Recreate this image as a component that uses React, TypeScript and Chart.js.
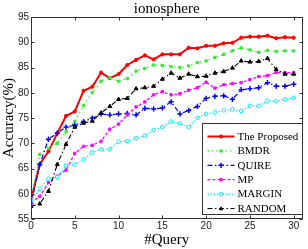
import React, { useEffect, useRef } from "react";
import { Chart, registerables } from "chart.js";

Chart.register(...registerables);

const queries = [0, 1, 2, 3, 4, 5, 6, 7, 8, 9, 10, 11, 12, 13, 14, 15, 16, 17, 18, 19, 20, 21, 22, 23, 24, 25, 26, 27, 28, 29, 30];

const proposed = [58.7, 65.8, 68.4, 72.0, 75.4, 76.3, 80.4, 81.2, 84.0, 82.9, 83.7, 85.5, 86.5, 87.4, 86.6, 87.6, 87.6, 87.6, 88.9, 88.8, 89.3, 89.3, 89.8, 89.9, 90.9, 91.1, 91.1, 91.3, 90.8, 91.0, 90.9];
const bmdr = [59.0, 67.8, 69.0, 70.0, 72.3, 74.3, 77.5, 80.0, 82.3, 83.0, 82.3, 82.8, 84.3, 84.8, 85.5, 85.4, 85.2, 85.0, 85.3, 86.0, 86.3, 87.0, 87.6, 88.3, 88.9, 88.5, 88.0, 88.4, 88.2, 88.3, 88.3];
const quire = [58.0, 65.8, 70.8, 72.0, 73.2, 73.6, 74.3, 75.0, 75.8, 75.6, 75.8, 75.9, 75.6, 76.9, 76.8, 77.0, 78.2, 75.8, 76.5, 77.3, 78.9, 79.3, 79.4, 78.7, 80.6, 80.8, 81.0, 82.0, 81.3, 81.3, 81.7];
const mp = [58.2, 59.5, 62.2, 63.5, 64.7, 68.0, 69.4, 69.6, 70.4, 72.8, 73.8, 75.6, 77.2, 78.2, 79.6, 80.2, 79.6, 79.8, 80.5, 81.0, 82.1, 80.9, 81.6, 81.8, 82.0, 82.6, 83.2, 83.4, 84.0, 84.0, 84.0];
const margin = [58.6, 61.0, 63.0, 63.3, 65.6, 65.8, 66.8, 68.2, 68.8, 68.8, 70.3, 70.4, 71.0, 71.5, 72.6, 73.2, 74.3, 73.9, 73.2, 75.0, 75.8, 76.1, 76.5, 76.7, 76.4, 77.4, 77.4, 78.4, 78.3, 78.7, 79.0];
const random = [57.5, 58.0, 60.5, 65.8, 69.8, 73.2, 74.0, 74.4, 76.0, 77.3, 78.7, 78.9, 80.8, 81.0, 81.3, 82.7, 83.9, 82.9, 83.7, 83.2, 83.3, 83.9, 84.2, 84.9, 86.3, 86.1, 86.2, 86.8, 84.6, 83.7, 83.7];

const seriesNames = ["The Proposed", "BMDR", "QUIRE", "MP", "MARGIN", "RANDOM"];
const xTicks = [0, 5, 10, 15, 20, 25, 30];
const yTicks = [55, 60, 65, 70, 75, 80, 85, 90, 95];
const chartTitle = "ionosphere";
const xTitle = "#Query";
const yTitle = "Accuracy(%)";

const SERIF = "'Liberation Serif', 'DejaVu Serif', serif";
const SANS = "'Liberation Sans', Arial, sans-serif";

type Style = {
  color: string;
  width: number;
  dash: number[];
  marker: string;
  radius: number;
  filled: boolean;
};

const styles: Style[] = [
  { color: "#ff0000", width: 2, dash: [], marker: "circle", radius: 1.6, filled: true },
  { color: "#33ee33", width: 1.3, dash: [1.5, 3], marker: "rect", radius: 1.6, filled: true },
  { color: "#0000ff", width: 1.2, dash: [5, 2.5, 1.5, 2.5], marker: "cross", radius: 2.6, filled: false },
  { color: "#ff00ff", width: 1.3, dash: [3, 2], marker: "rect", radius: 1.6, filled: true },
  { color: "#00eeff", width: 1.1, dash: [1.5, 1.5], marker: "circle", radius: 1.8, filled: false },
  { color: "#000000", width: 1.1, dash: [5, 2.5, 1.5, 2.5], marker: "triangle", radius: 2.3, filled: true },
];

function drawMarker(ctx: CanvasRenderingContext2D, s: Style, x: number, y: number) {
  const r = s.radius;
  ctx.save();
  ctx.setLineDash([]);
  ctx.strokeStyle = s.color;
  ctx.fillStyle = s.filled ? s.color : "#ffffff";
  ctx.lineWidth = s.marker === "cross" ? 1.5 : 1;
  ctx.beginPath();
  if (s.marker === "circle") {
    ctx.arc(x, y, r, 0, Math.PI * 2);
    ctx.fill();
    ctx.stroke();
  } else if (s.marker === "rect") {
    ctx.rect(x - r, y - r, 2 * r, 2 * r);
    ctx.fill();
  } else if (s.marker === "cross") {
    ctx.moveTo(x - r, y);
    ctx.lineTo(x + r, y);
    ctx.moveTo(x, y - r);
    ctx.lineTo(x, y + r);
    ctx.stroke();
  } else if (s.marker === "triangle") {
    ctx.moveTo(x, y - r * 1.1);
    ctx.lineTo(x + r, y + r * 0.8);
    ctx.lineTo(x - r, y + r * 0.8);
    ctx.closePath();
    ctx.fill();
  }
  ctx.restore();
}

export default function App() {
  const ref = useRef<HTMLCanvasElement>(null);

  useEffect(() => {
    document.body.style.margin = "0";
    const canvas = ref.current;
    if (!canvas) return;
    const allSeries = [proposed, bmdr, quire, mp, margin, random];

    const datasets = allSeries.map((vals, i) => {
      const s = styles[i];
      return {
        label: seriesNames[i],
        data: vals.map((v, k) => ({ x: queries[k], y: v })),
        borderColor: s.color,
        backgroundColor: s.filled ? s.color : "#ffffff",
        borderWidth: s.width,
        borderDash: s.dash,
        pointStyle: s.marker === "cross" ? "cross" : s.marker === "rect" ? "rect" : s.marker === "triangle" ? "triangle" : "circle",
        pointRadius: s.radius,
        pointBorderWidth: s.marker === "cross" ? 1.5 : 1,
        pointBorderColor: s.color,
        pointBackgroundColor: s.filled ? s.color : "#ffffff",
        tension: 0,
        order: 6 - i,
      };
    });

    const framePlugin = {
      id: "frame",
      afterDatasetsDraw(chart: any) {
        const { ctx, chartArea: a, scales } = chart;
        const xs = scales.x;
        const ys = scales.y;
        ctx.save();
        ctx.setLineDash([]);
        ctx.strokeStyle = "#333333";
        ctx.lineWidth = 1;
        const L = Math.round(a.left) + 0.5;
        const R = Math.round(a.right) - 0.5;
        const T = Math.round(a.top) + 0.5;
        const B = Math.round(a.bottom) - 0.5;
        ctx.strokeRect(L, T, R - L, B - T);
        ctx.beginPath();
        const tl = 3;
        xTicks.forEach((v) => {
          const px = Math.round(xs.getPixelForValue(v)) + 0.5;
          ctx.moveTo(px, B);
          ctx.lineTo(px, B - tl);
          ctx.moveTo(px, T);
          ctx.lineTo(px, T + tl);
        });
        yTicks.forEach((v) => {
          const py = Math.round(ys.getPixelForValue(v)) + 0.5;
          ctx.moveTo(L, py);
          ctx.lineTo(L + tl, py);
          ctx.moveTo(R, py);
          ctx.lineTo(R - tl, py);
        });
        ctx.stroke();

        // title
        ctx.fillStyle = "#000000";
        ctx.font = `15px ${SERIF}`;
        ctx.textAlign = "center";
        ctx.textBaseline = "alphabetic";
        ctx.fillText(chartTitle, (a.left + a.right) / 2, 12.5);

        // legend
        const lw = 100;
        const lh = 91;
        const lx = Math.round(a.right) - lw - 0.5;
        const ly = Math.round(a.bottom) - lh - 4.5;
        ctx.fillStyle = "#ffffff";
        ctx.fillRect(lx, ly, lw, lh);
        ctx.strokeStyle = "#333333";
        ctx.lineWidth = 1;
        ctx.strokeRect(lx, ly, lw, lh);
        ctx.font = `11px ${SERIF}`;
        ctx.textAlign = "left";
        ctx.textBaseline = "middle";
        seriesNames.forEach((name, i) => {
          const s = styles[i];
          const cy = ly + 13 + i * 14.4;
          ctx.save();
          ctx.strokeStyle = s.color;
          ctx.lineWidth = s.width;
          ctx.setLineDash(s.dash);
          ctx.beginPath();
          ctx.moveTo(lx + 5, cy);
          ctx.lineTo(lx + 32, cy);
          ctx.stroke();
          ctx.restore();
          drawMarker(ctx, s, lx + 18.5, cy);
          ctx.fillStyle = "#000000";
          ctx.fillText(name, lx + 35, cy + 0.5);
        });
        ctx.restore();
      },
    };

    const chart = new Chart(canvas, {
      type: "line",
      data: { datasets: datasets as any },
      options: {
        animation: false,
        responsive: false,
        devicePixelRatio: 1,
        layout: { padding: { left: 0, right: 5, top: 17, bottom: 0 } },
        plugins: {
          legend: { display: false },
          title: { display: false },
          tooltip: { enabled: false },
        },
        scales: {
          x: {
            type: "linear",
            min: 0,
            max: 31,
            afterBuildTicks: (s: any) => {
              s.ticks = xTicks.map((v) => ({ value: v }));
            },
            afterFit: (s: any) => {
              s.height = 30;
            },
            grid: { display: false, drawTicks: false },
            border: { display: false },
            ticks: {
              padding: 1,
              color: "#222222",
              font: { family: SANS, size: 10 },
              maxRotation: 0,
              autoSkip: false,
            },
            title: {
              display: true,
              text: xTitle,
              color: "#000000",
              font: { family: SERIF, size: 15 },
              padding: { top: 0, bottom: 0 },
            },
          },
          y: {
            type: "linear",
            min: 55,
            max: 95,
            afterBuildTicks: (s: any) => {
              s.ticks = yTicks.map((v) => ({ value: v }));
            },
            afterFit: (s: any) => {
              s.width = 31;
            },
            grid: { display: false, drawTicks: false },
            border: { display: false },
            ticks: {
              padding: 2,
              color: "#222222",
              font: { family: SANS, size: 10 },
              autoSkip: false,
            },
            title: {
              display: true,
              text: yTitle,
              color: "#000000",
              font: { family: SERIF, size: 15 },
              padding: { top: 0, bottom: 0 },
            },
          },
        },
      },
      plugins: [framePlugin],
    });

    return () => chart.destroy();
  }, []);

  return (
    <div style={{ position: "absolute", left: 0, top: 0, width: 308, height: 249, background: "#ffffff" }}>
      <canvas ref={ref} width={308} height={249} style={{ display: "block" }} />
    </div>
  );
}
